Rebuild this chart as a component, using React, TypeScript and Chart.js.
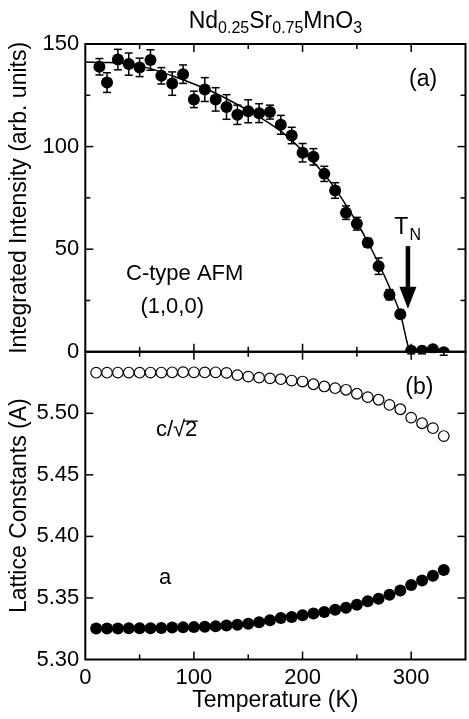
import { useEffect, useRef } from 'react';
import { Chart, registerables } from 'chart.js';

Chart.register(...registerables);

const FONT = "'Liberation Sans', Arial, Helvetica, sans-serif";

// Panel (a): integrated intensity of the (1,0,0) C-type AFM peak
const tempsA = [13, 20, 30, 40, 50, 60, 70, 80, 90, 100, 110, 120, 130, 140, 150, 160, 170, 180, 190, 200, 210, 220, 230, 240, 250, 260, 270, 280, 290, 300, 310, 320, 330];
const intensity = [138.9, 131.2, 142.4, 140.2, 138.6, 142.2, 134.5, 130.7, 135.3, 123.0, 127.8, 123.0, 119.3, 115.5, 117.2, 116.3, 116.8, 110.6, 105.4, 97.0, 95.0, 86.7, 78.6, 67.8, 62.4, 53.1, 41.7, 27.8, 18.3, 0.5, 0.5, 1.2, -0.2];
const intensityErr = [4.0, 4.8, 5.0, 5.4, 4.5, 5.0, 4.0, 5.7, 4.5, 4.0, 5.8, 5.7, 6.0, 4.7, 5.6, 4.6, 3.4, 4.6, 4.0, 4.5, 4.0, 3.7, 3.8, 3.3, 3.1, 2.1, 4.0, 2.5, 2.0, 1.5, 1.5, 1.5, 1.5];

// Fit curve
const fitTemps = [0, 20, 40, 60, 80, 100, 120, 140, 160, 180, 200, 210, 220, 230, 240, 250, 260, 270, 280, 290, 300, 335];
const fitIntensity = [141.2, 141.0, 140.2, 138.0, 134.5, 130.5, 126.0, 120.5, 114.5, 107.5, 98.0, 92.5, 86.5, 79.5, 71.5, 63.0, 53.5, 43.0, 31.5, 18.5, 0, 0];

// Panel (b): lattice constants
const tempsB = [10, 20, 30, 40, 50, 60, 70, 80, 90, 100, 110, 120, 130, 140, 150, 160, 170, 180, 190, 200, 210, 220, 230, 240, 250, 260, 270, 280, 290, 300, 310, 320, 330];
const cOverRoot2 = [5.5330, 5.5330, 5.5331, 5.5331, 5.5330, 5.5331, 5.5331, 5.5333, 5.5334, 5.5333, 5.5332, 5.5333, 5.5328, 5.5310, 5.5298, 5.5290, 5.5284, 5.5277, 5.5266, 5.5258, 5.5236, 5.5218, 5.5204, 5.5191, 5.5159, 5.5131, 5.5110, 5.5068, 5.5033, 5.4965, 5.4919, 5.4879, 5.4815];
const aLattice = [5.3252, 5.3252, 5.3252, 5.3253, 5.3253, 5.3254, 5.3256, 5.3259, 5.3261, 5.3263, 5.3266, 5.3271, 5.3276, 5.3282, 5.3290, 5.3303, 5.3319, 5.3337, 5.3345, 5.3359, 5.3373, 5.3386, 5.3405, 5.3421, 5.3445, 5.3474, 5.3494, 5.3526, 5.3560, 5.3606, 5.3641, 5.3681, 5.3727];

// Axis tick settings
const xTickLabels = [0, 100, 200, 300];
const yATickLabels = [0, 50, 100, 150];
const yBTickLabels = ['5.30', '5.35', '5.40', '5.45', '5.50'];

// T_N arrow (temperature, from intensity, to intensity)
const arrowT = 297;
const arrowFrom = 51.5;
const arrowTo = 21;

export default function App() {
  const ref = useRef<HTMLCanvasElement>(null);

  useEffect(() => {
    document.body.style.margin = '0';
    const canvas = ref.current!;

    const line = (ctx: any, x1: number, y1: number, x2: number, y2: number) => {
      ctx.beginPath();
      ctx.moveTo(x1, y1);
      ctx.lineTo(x2, y2);
      ctx.stroke();
    };

    const plugin = {
      id: 'decor',
      beforeDatasetsDraw(chart: any) {
        const ctx = chart.ctx;
        const xs = chart.scales.x;
        const ya = chart.scales.yA;
        ctx.save();
        ctx.strokeStyle = '#000';
        ctx.lineWidth = 1.5;
        tempsA.forEach((t, i) => {
          const e = intensityErr[i];
          const px = xs.getPixelForValue(t);
          const y1 = ya.getPixelForValue(intensity[i] + e);
          const y2 = ya.getPixelForValue(intensity[i] - e);
          line(ctx, px, y1, px, y2);
          line(ctx, px - 4, y1, px + 4, y1);
          line(ctx, px - 4, y2, px + 4, y2);
        });
        ctx.restore();
      },
      afterDraw(chart: any) {
        const ctx = chart.ctx;
        const xs = chart.scales.x;
        const ya = chart.scales.yA;
        const yb = chart.scales.yB;
        const L = chart.chartArea.left;
        const R = chart.chartArea.right;
        ctx.save();
        ctx.strokeStyle = '#000';
        ctx.fillStyle = '#000';
        ctx.lineWidth = 2;
        ctx.strokeRect(L, ya.top, R - L, ya.bottom - ya.top);
        ctx.strokeRect(L, yb.top, R - L, yb.bottom - yb.top);

        // x ticks (inward), all panel edges
        ctx.lineWidth = 1.5;
        for (let t = 50; t <= 300; t += 50) {
          const px = xs.getPixelForValue(t);
          const len = t % 100 === 0 ? 8 : 5;
          line(ctx, px, ya.top, px, ya.top + len);
          line(ctx, px, ya.bottom, px, ya.bottom - len);
          line(ctx, px, yb.top, px, yb.top + len);
          line(ctx, px, yb.bottom, px, yb.bottom - len);
        }
        // y ticks panel a
        for (let v = 25; v <= 125; v += 25) {
          const py = ya.getPixelForValue(v);
          const len = v % 50 === 0 ? 8 : 5;
          line(ctx, L, py, L + len, py);
          line(ctx, R, py, R - len, py);
        }
        // y ticks panel b
        for (let k = 1; k <= 4; k++) {
          const py = yb.getPixelForValue(5.30 + 0.05 * k);
          line(ctx, L, py, L + 8, py);
          line(ctx, R, py, R - 8, py);
        }

        // Title with subscripts
        const parts: [string, boolean][] = [['Nd', false], ['0.25', true], ['Sr', false], ['0.75', true], ['MnO', false], ['3', true]];
        const big = `23px ${FONT}`;
        const small = `16px ${FONT}`;
        let total = 0;
        parts.forEach(([s, sub]) => { ctx.font = sub ? small : big; total += ctx.measureText(s).width; });
        let cx = (L + R) / 2 - total / 2;
        const base = ya.top - 16;
        ctx.textAlign = 'left';
        ctx.textBaseline = 'alphabetic';
        parts.forEach(([s, sub]) => {
          ctx.font = sub ? small : big;
          ctx.fillText(s, cx, sub ? base + 5 : base);
          cx += ctx.measureText(s).width;
        });

        // annotations
        ctx.textAlign = 'center';
        ctx.textBaseline = 'middle';
        ctx.font = `23px ${FONT}`;
        ctx.fillText('(a)', xs.getPixelForValue(311), ya.getPixelForValue(132.5));
        ctx.fillText('(b)', xs.getPixelForValue(307.5), yb.getPixelForValue(5.521));
        ctx.font = `22px ${FONT}`;
        ctx.fillText('C-type AFM', xs.getPixelForValue(91.5), ya.getPixelForValue(38));
        ctx.fillText('(1,0,0)', xs.getPixelForValue(80), ya.getPixelForValue(22));
        ctx.fillText('a', xs.getPixelForValue(73.5), yb.getPixelForValue(5.3665));

        // c/sqrt(2)
        ctx.textAlign = 'left';
        ctx.font = `22px ${FONT}`;
        const cStart = xs.getPixelForValue(65);
        const cy = yb.getPixelForValue(5.4863);
        const s1 = 'c/\u221A';
        ctx.fillText(s1, cStart, cy);
        const w1 = ctx.measureText(s1).width;
        ctx.fillText('2', cStart + w1, cy);
        const w2 = ctx.measureText('2').width;
        ctx.lineWidth = 1.3;
        line(ctx, cStart + w1 - 1, cy - 9, cStart + w1 + w2 + 0.5, cy - 9);

        // T_N
        const tx = xs.getPixelForValue(284.5);
        const tb = ya.getPixelForValue(57.5);
        ctx.textBaseline = 'alphabetic';
        ctx.font = `23px ${FONT}`;
        ctx.fillText('T', tx, tb);
        const wt = ctx.measureText('T').width;
        ctx.font = `16px ${FONT}`;
        ctx.fillText('N', tx + wt + 1, tb + 6);

        // Arrow
        const ax = xs.getPixelForValue(arrowT);
        const aTop = ya.getPixelForValue(arrowFrom);
        const aTip = ya.getPixelForValue(arrowTo);
        const headLen = 22;
        const headW = 8.5;
        ctx.lineWidth = 4.5;
        line(ctx, ax, aTop, ax, aTip - headLen + 1);
        ctx.beginPath();
        ctx.moveTo(ax - headW, aTip - headLen);
        ctx.lineTo(ax + headW, aTip - headLen);
        ctx.lineTo(ax, aTip);
        ctx.closePath();
        ctx.fill();

        ctx.restore();
      },
    };

    const tickFont = { family: FONT, size: 22 };
    const titleFont = { family: FONT, size: 23 };

    const chart = new Chart(canvas, {
      type: 'scatter',
      data: {
        datasets: [
          {
            data: tempsA.map((t, i) => ({ x: t, y: intensity[i] })),
            yAxisID: 'yA',
            pointRadius: 6,
            pointBackgroundColor: '#000',
            pointBorderColor: '#000',
            pointBorderWidth: 0,
            showLine: false,
          },
          {
            data: tempsB.map((t, i) => ({ x: t, y: cOverRoot2[i] })),
            yAxisID: 'yB',
            pointRadius: 5.3,
            pointBackgroundColor: '#fff',
            pointBorderColor: '#000',
            pointBorderWidth: 1.2,
            showLine: false,
          },
          {
            data: tempsB.map((t, i) => ({ x: t, y: aLattice[i] })),
            yAxisID: 'yB',
            pointRadius: 6,
            pointBackgroundColor: '#000',
            pointBorderColor: '#000',
            pointBorderWidth: 0,
            showLine: false,
          },
          {
            data: fitTemps.map((t, i) => ({ x: t, y: fitIntensity[i] })),
            yAxisID: 'yA',
            showLine: true,
            borderColor: '#000',
            borderWidth: 1.5,
            pointRadius: 0,
            cubicInterpolationMode: 'monotone',
          } as any,
        ],
      },
      options: {
        responsive: false,
        animation: false,
        layout: { padding: { top: 44, right: 1.7, left: 0, bottom: 0 } },
        plugins: {
          legend: { display: false },
          tooltip: { enabled: false },
          title: { display: false },
        },
        scales: {
          x: {
            type: 'linear',
            position: 'bottom',
            min: 0,
            max: 350,
            afterFit: (s: any) => { s.height = 59.5; },
            grid: { display: false, drawTicks: false },
            border: { display: false },
            afterBuildTicks: (s: any) => { s.ticks = xTickLabels.map((v) => ({ value: v })); },
            ticks: { autoSkip: false, padding: 5, color: '#000', font: tickFont, maxRotation: 0 },
            title: { display: true, text: 'Temperature (K)', color: '#000', font: titleFont, padding: { top: 0, bottom: 5 } },
          },
          yB: {
            type: 'linear',
            position: 'left',
            stack: 'panels',
            stackWeight: 1,
            min: 5.30,
            max: 5.55,
            afterFit: (s: any) => { s.width = 85.3; },
            grid: { display: false, drawTicks: false },
            border: { display: false },
            afterBuildTicks: (s: any) => { s.ticks = yBTickLabels.map((v) => ({ value: parseFloat(v) })); },
            ticks: { autoSkip: false, padding: 6, color: '#000', font: tickFont, callback: (v: any) => Number(v).toFixed(2) },
            title: { display: true, text: 'Lattice Constants (A)', color: '#000', font: titleFont, padding: { top: 6, bottom: 0 } },
          },
          yA: {
            type: 'linear',
            position: 'left',
            stack: 'panels',
            stackWeight: 1,
            min: 0,
            max: 150,
            afterFit: (s: any) => { s.width = 85.3; },
            grid: { display: false, drawTicks: false },
            border: { display: false },
            afterBuildTicks: (s: any) => { s.ticks = yATickLabels.map((v) => ({ value: v })); },
            ticks: { autoSkip: false, padding: 6, color: '#000', font: tickFont },
            title: { display: true, text: 'Integrated Intensity (arb. units)', color: '#000', font: titleFont, padding: { top: 6, bottom: 0 } },
          },
        } as any,
      },
      plugins: [plugin],
    });

    return () => chart.destroy();
  }, []);

  return (
    <div style={{ width: 469, height: 719, overflow: 'hidden', position: 'relative', background: '#fff' }}>
      <canvas ref={ref} width={472} height={719} style={{ display: 'block' }} />
    </div>
  );
}
